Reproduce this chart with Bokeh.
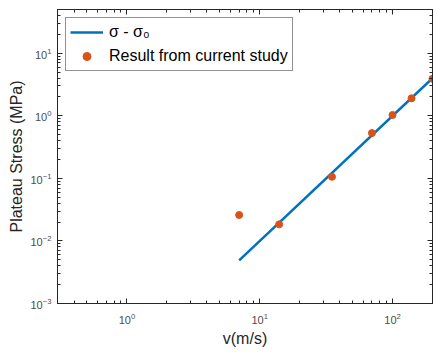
from bokeh.plotting import figure
from bokeh.models import (Range1d, LogAxis, LogTicker, Legend, LegendItem,
                          ColumnDataSource, CustomJSTickFormatter)
from bokeh.embed import file_html
from bokeh.resources import INLINE

# data
v_points = [7.0, 14.0, 35.0, 70.0, 100.0, 139.0, 200.0]
stress_points = [0.026, 0.0184, 0.106, 0.53, 1.03, 1.9, 3.9]
v_line = [7.0, 200.0]
stress_line = [0.0049, 4.0]
fit_label = "σ - σ₀"
pts_label = "Result from current study"
x_title = "v(m/s)"
y_title = "Plateau Stress (MPa)"

AX = "#262626"
FONT = "Liberation Sans"

p = figure(width=435, height=352, x_axis_type="log", y_axis_type="log",
           x_range=Range1d(0.3, 200), y_range=Range1d(1e-3, 50),
           output_backend="svg", toolbar_location=None,
           min_border_left=57, min_border_right=0, min_border_top=9, min_border_bottom=49)
p.grid.visible = False
p.outline_line_color = AX
p.outline_line_width = 1
p.background_fill_color = "white"
p.border_fill_color = "white"

line_src = ColumnDataSource(dict(x=v_line, y=stress_line))
pt_src = ColumnDataSource(dict(x=v_points, y=stress_points))
r_line = p.line("x", "y", source=line_src, line_color="#0072BD", line_width=2.5)
r_pts = p.scatter("x", "y", source=pt_src, size=7, fill_color="#D95319", line_color="#D95319")

def style(ax, labels=True):
    ax.axis_line_color = AX
    ax.major_tick_line_color = AX
    ax.minor_tick_line_color = AX
    ax.major_tick_in = 5
    ax.major_tick_out = 0
    ax.minor_tick_in = 3
    ax.minor_tick_out = 0
    ax.major_label_text_font = FONT
    ax.major_label_text_font_size = "11px"
    ax.major_label_text_color = "#4d4d4d"
    ax.axis_label_text_font = FONT
    ax.axis_label_text_font_size = "16px"
    ax.axis_label_text_font_style = "normal"
    ax.axis_label_text_color = AX
    if not labels:
        ax.formatter = CustomJSTickFormatter(code="return ' ';")
        ax.major_label_text_font_size = "1px"
        ax.major_label_standoff = 0
        ax.axis_label_standoff = 0

for ax in p.xaxis + p.yaxis:
    style(ax)
    ax.ticker = LogTicker(num_minor_ticks=10)
p.xaxis.axis_label = x_title
p.yaxis.axis_label = y_title
p.xaxis.major_label_standoff = 9
p.xaxis.axis_label_standoff = 3
p.yaxis.major_label_standoff = 6
p.yaxis.axis_label_standoff = 2

top = LogAxis(ticker=LogTicker(num_minor_ticks=10))
right = LogAxis(ticker=LogTicker(num_minor_ticks=10))
style(top, labels=False)
style(right, labels=False)
p.add_layout(top, "above")
p.add_layout(right, "right")

legend = Legend(items=[LegendItem(label=fit_label, renderers=[r_line]),
                       LegendItem(label=pts_label, renderers=[r_pts])],
                location="top_left")
legend.margin = 8
legend.padding = 4
legend.spacing = 4
legend.glyph_width = 33
legend.glyph_height = 20
legend.label_height = 20
legend.label_standoff = 6
legend.label_text_font = FONT
legend.label_text_font_size = "16px"
legend.label_text_color = "black"
legend.border_line_color = AX
legend.border_line_width = 1
legend.background_fill_alpha = 1
p.add_layout(legend, "center")

open("out.html", "w").write(file_html(p, INLINE))
